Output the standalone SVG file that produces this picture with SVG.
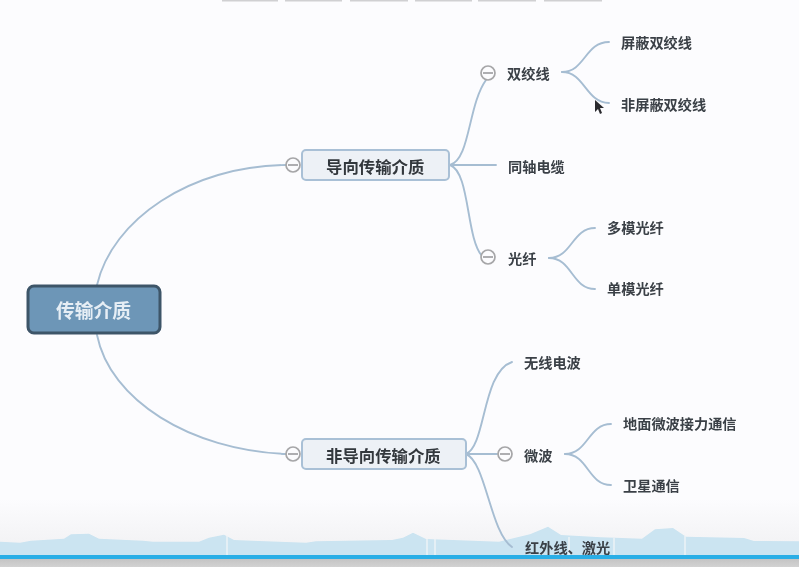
<svg xmlns="http://www.w3.org/2000/svg" width="799" height="567" viewBox="0 0 799 567">
<style>
text{font-family:"Noto Sans CJK SC","Liberation Sans",sans-serif;text-anchor:start;dominant-baseline:central;transform:translateY(-1px)}
.t{font-size:14.200px;font-weight:700;fill:#3a4046}
.m{font-size:16.400px;font-weight:700;fill:#33373c}
.c{fill:none;stroke:#a6bdd2;stroke-width:1.9;stroke-linecap:round}
.b{fill:#edf1f6;stroke:#a9c0d6;stroke-width:2}
.k{fill:#fcfcfe;stroke:#a6a6a8;stroke-width:1.7}
.d{stroke:#8d8d90;stroke-width:1.4}
.s{fill:#d0d0d2}
.w{stroke:#f1f5f8;stroke-width:1.3}
</style>
<defs>
<linearGradient id="bg" x1="0" y1="0" x2="0" y2="1"><stop offset="0" stop-color="#fcfcfe"/><stop offset="0.88" stop-color="#fcfcfe"/><stop offset="1" stop-color="#eeeef0"/></linearGradient>
<linearGradient id="gr" x1="0" y1="0" x2="0" y2="1"><stop offset="0" stop-color="#c4c4c4"/><stop offset="1" stop-color="#d2d2d2"/></linearGradient>
<filter id="f" x="-5%" y="-5%" width="110%" height="110%"><feGaussianBlur stdDeviation="0.45"/></filter>
</defs>
<rect width="799" height="567" fill="url(#bg)"/>
<g id="backdrop">
<path fill="#cbe4f1" filter="url(#f)" d="M0 541.700L20 542.700L31 540.700L64 538.700L71 534.300L89 533.700L99 538.700L143 540.700L153 541.700L199 541.700L209 537.700L224 534.700L234 540L306 542.700L316 541.300L392 540L403 537.700L413 532.700L426 539L499 541.700L530 534.300L548 526.700L561 535L601 537.300L642 538.700L655 529.300L673 528L686 536.700L744 538L754 541L799 541.300V556H0Z"/>
<path class="w" d="M227 535V555M427 539V555M435 538V555M569 537V555M614 538V555M685 536V555" fill="none"/>
<rect y="555" width="799" height="4" fill="#29aee6"/>
<rect y="559" width="799" height="8" fill="url(#gr)"/>
<rect class="s" x="222" y="0" width="56" height="1.500"/>
<rect class="s" x="285" y="0" width="57" height="1.500"/>
<rect class="s" x="350" y="0" width="58" height="1.500"/>
<rect class="s" x="415" y="0" width="57" height="1.500"/>
<rect class="s" x="478" y="0" width="58" height="1.500"/>
<rect class="s" x="544" y="0" width="58" height="1.500"/>
</g>
<g filter="url(#f)">
<g id="connectors">
<path class="c" d="M97 285C112 220 190 166 286 165"/>
<path class="c" d="M97 335C110 400 190 450 286 454"/>
<path class="c" d="M450 165C470 160 468 105 486 80"/>
<path class="c" d="M450 165H496"/>
<path class="c" d="M450 165C470 172 466 238 482 256"/>
<path class="c" d="M562 72C585 72 585 42 609 42"/>
<path class="c" d="M562 72C585 72 585 102 609 103"/>
<path class="c" d="M549 258C572 258 572 228 595 228"/>
<path class="c" d="M549 258C572 258 572 289 595 289"/>
<path class="c" d="M466 454C486 446 482 372 512 362"/>
<path class="c" d="M466 454H497"/>
<path class="c" d="M466 454C486 462 490 532 512 547"/>
<path class="c" d="M565 454C588 454 588 424 611 424"/>
<path class="c" d="M565 454C588 454 588 485 611 485"/>
</g>
<g id="root"><rect x="28" y="286" width="132" height="47" rx="6" fill="#6d96b7" stroke="#3d5468" stroke-width="3"/><text x="56" y="310" style="font-size:18.800px;font-weight:700;fill:#e6eef5">传输介质</text></g>
<g id="n-guided"><rect class="b" x="302" y="150" width="147" height="30" rx="4"/><text class="m" x="326" y="167">导向传输介质</text>
<circle class="k" cx="293" cy="165" r="7"/><path class="d" d="M288 165H298"/></g>
<g id="n-unguided"><rect class="b" x="302" y="439" width="164" height="30" rx="4"/><text class="m" x="326" y="456">非导向传输介质</text>
<circle class="k" cx="293" cy="454" r="7"/><path class="d" d="M288 454H298"/></g>
<g id="n-twisted"><circle class="k" cx="488" cy="73" r="7"/><path class="d" d="M483 73H493"/><text class="t" x="507" y="74">双绞线</text></g>
<g id="n-coax"><text class="t" x="508" y="167">同轴电缆</text></g>
<g id="n-fiber"><circle class="k" cx="488" cy="257" r="7"/><path class="d" d="M483 257H493"/><text class="t" x="508" y="259">光纤</text></g>
<g id="n-stp"><text class="t" x="621" y="43">屏蔽双绞线</text></g>
<g id="n-utp"><text class="t" x="621" y="105">非屏蔽双绞线</text></g>
<g id="n-mm"><text class="t" x="607" y="228">多模光纤</text></g>
<g id="n-sm"><text class="t" x="607" y="289">单模光纤</text></g>
<g id="n-radio"><text class="t" x="524" y="363">无线电波</text></g>
<g id="n-micro"><circle class="k" cx="505" cy="454" r="7"/><path class="d" d="M500 454H510"/><text class="t" x="524" y="456">微波</text></g>
<g id="n-ground"><text class="t" x="623" y="424">地面微波接力通信</text></g>
<g id="n-sat"><text class="t" x="623" y="486">卫星通信</text></g>
<g id="n-ir"><text class="t" x="525" y="548">红外线、激光</text></g>
<path d="M595 100V112L598 109L600 114L602 113L600 108L604 108Z" fill="#2a2a2e"/>
</g>
</svg>
